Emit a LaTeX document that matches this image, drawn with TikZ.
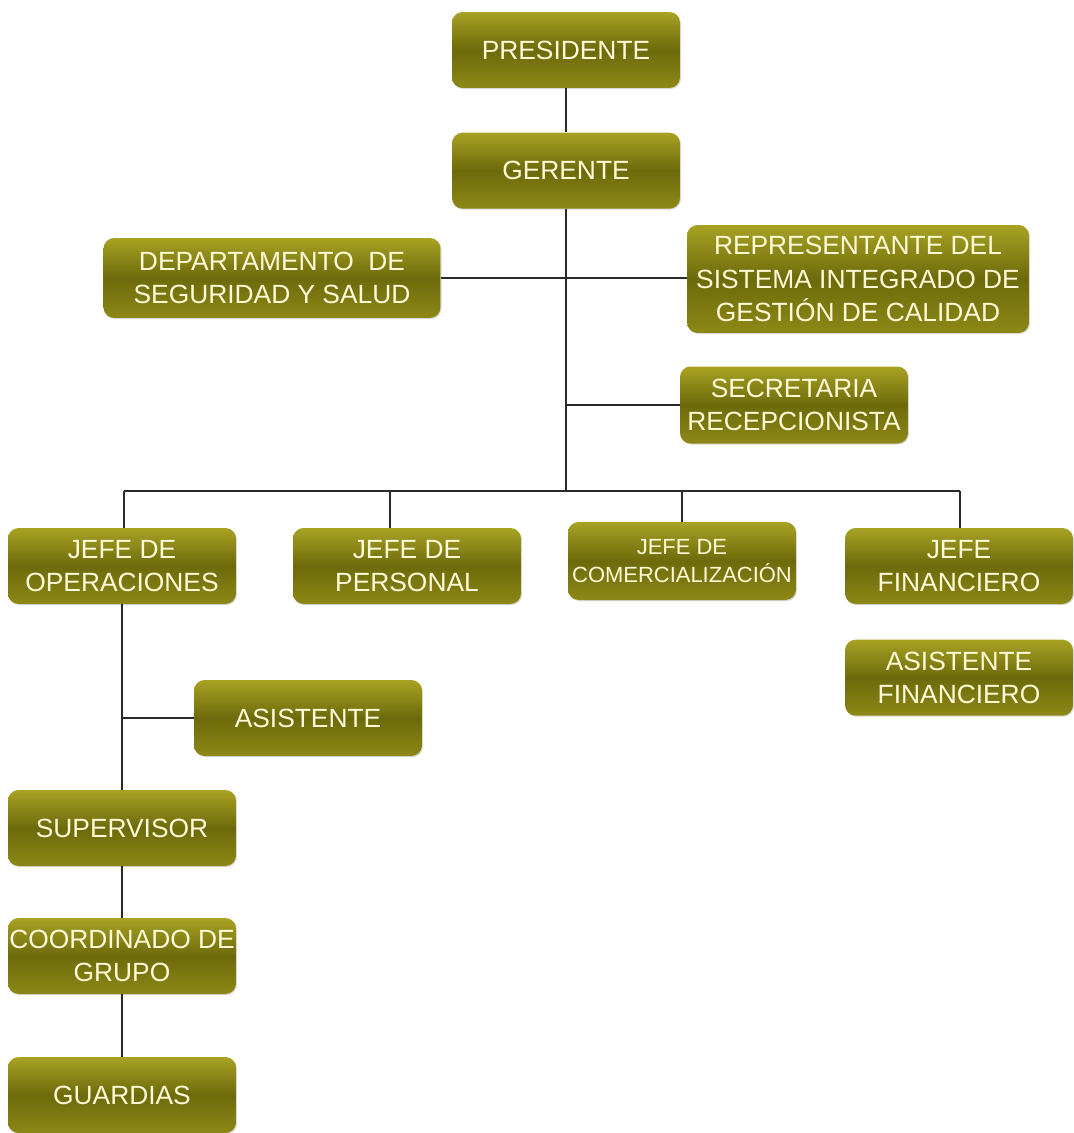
\documentclass[tikz,border=0pt]{standalone}
\usepackage{fontspec}
\setmainfont{Liberation Sans}
\usetikzlibrary{positioning, shadows}
\definecolor{oltop}{HTML}{A8A223}
\definecolor{olmid}{HTML}{6D6A0B}
\definecolor{olbot}{HTML}{8D8816}
\definecolor{cream}{HTML}{FFFAD8}
\definecolor{wirecol}{HTML}{2A2A2A}

\begin{document}
\begin{tikzpicture}[
  x=0.02cm, y=-0.02cm,
  node distance=0.88cm and 1.12cm,
  cargo/.style={rectangle, rounded corners=6pt, top color=oltop, bottom color=olbot,
                middle color=olmid, minimum width=4.56cm, minimum height=1.52cm,
                inner xsep=0.5pt, inner ysep=2pt, align=center, text=cream,
                font=\fontsize{15}{19}\selectfont,
                drop shadow={shadow xshift=0.6pt, shadow yshift=-0.6pt, opacity=0.3}},
  chico/.style={font=\fontsize{12.5}{16}\selectfont},
  wire/.style={draw=wirecol, line width=0.8pt}
]
  \useasboundingbox (0,0) rectangle (1073,1133);

  % top of the chart
  \node[cargo] (pres) at (566,50) {PRESIDENTE};
  \node[cargo, below=of pres] (ger) {GERENTE};
  \node[cargo, minimum width=6.74cm, minimum height=1.6cm] (dept) at (272,278)
    {DEPARTAMENTO\ \ DE\\SEGURIDAD Y SALUD};
  \node[cargo, minimum width=6.84cm, minimum height=2.16cm] (rep) at (858,279)
    {REPRESENTANTE DEL\\SISTEMA INTEGRADO DE\\GESTIÓN DE CALIDAD};
  \node[cargo, minimum height=1.54cm] (sec) at (794,405) {SECRETARIA\\RECEPCIONISTA};

  % jefes
  \node[cargo] (jops) at (122,566) {JEFE DE\\OPERACIONES};
  \node[cargo] (jper) at (407,566) {JEFE DE\\PERSONAL};
  \node[cargo, chico, minimum height=1.56cm] (jcom) at (682,561) {JEFE DE\\COMERCIALIZACIÓN};
  \node[cargo] (jfin) at (959,566) {JEFE\\FINANCIERO};
  \node[cargo, below=0.7cm of jfin] (asfin) {ASISTENTE\\FINANCIERO};

  % operaciones
  \node[cargo] (asis) at (308,718) {ASISTENTE};
  \node[cargo] (sup) at (122,828) {SUPERVISOR};
  \node[cargo] (coor) at (122,956) {COORDINADO DE\\GRUPO};
  \node[cargo] (guard) at (122,1095) {GUARDIAS};

  % connectors
  \coordinate (bl) at (124,491);
  \coordinate (br) at (960,491);
  \draw[wire] (pres) -- (ger);
  \draw[wire] (ger.south) -- (ger.south |- bl);
  \draw[wire] (dept.east) -- (dept.east -| rep.west);
  \draw[wire] (ger.south |- sec.west) -- (sec.west);
  \draw[wire] (bl) -- (br);
  \foreach \j/\xx in {jops/124, jper/390, jcom/682, jfin/960} {
    \coordinate (drop) at (\xx,491);
    \draw[wire] (drop) -- (drop |- \j.north);
  }
  \draw[wire] (jops.south) -- (sup.north);
  \draw[wire] (jops.south |- asis.west) -- (asis.west);
  \draw[wire] (sup) -- (coor);
  \draw[wire] (coor) -- (guard);
\end{tikzpicture}
\end{document}
